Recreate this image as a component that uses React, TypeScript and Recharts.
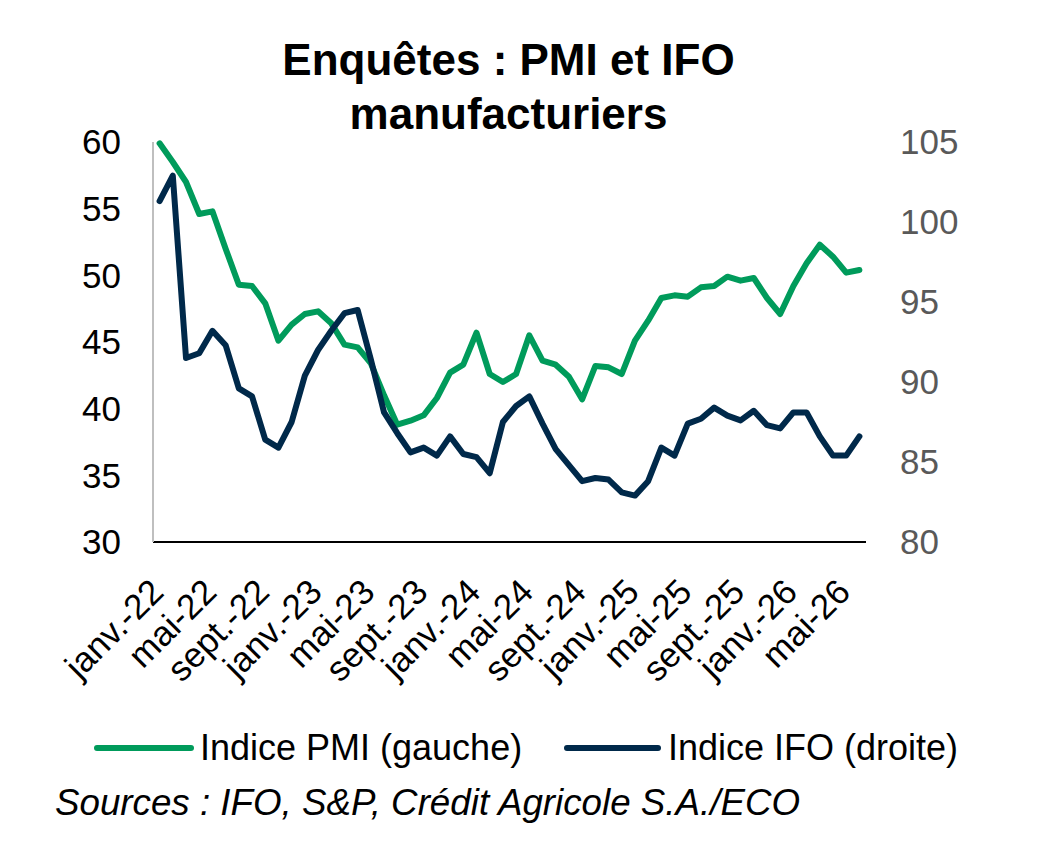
import React from "react";
import { LineChart, Line, XAxis, YAxis } from "recharts";

const MONTHS: string[] = [
  "janv.-22","févr.-22","mars-22","avr.-22","mai-22","juin-22","juil.-22","août-22","sept.-22","oct.-22","nov.-22","déc.-22",
  "janv.-23","févr.-23","mars-23","avr.-23","mai-23","juin-23","juil.-23","août-23","sept.-23","oct.-23","nov.-23","déc.-23",
  "janv.-24","févr.-24","mars-24","avr.-24","mai-24","juin-24","juil.-24","août-24","sept.-24","oct.-24","nov.-24","déc.-24",
  "janv.-25","févr.-25","mars-25","avr.-25","mai-25","juin-25","juil.-25","août-25","sept.-25","oct.-25","nov.-25","déc.-25",
  "janv.-26","févr.-26","mars-26","avr.-26","mai-26","juin-26",
];

const PMI: number[] = [
  59.9, 58.5, 57.0, 54.6, 54.8, 52.0, 49.3, 49.2, 47.9, 45.1, 46.3, 47.1,
  47.3, 46.4, 44.8, 44.6, 43.4, 41.0, 38.8, 39.1, 39.5, 40.8, 42.7, 43.3,
  45.7, 42.6, 42.0, 42.6, 45.5, 43.6, 43.3, 42.4, 40.7, 43.2, 43.1, 42.6,
  45.1, 46.6, 48.3, 48.5, 48.4, 49.1, 49.2, 49.9, 49.6, 49.8, 48.3, 47.1,
  49.2, 50.9, 52.3, 51.4, 50.2, 50.4,
];

const IFO: number[] = [
  101.3, 102.9, 91.5, 91.8, 93.2, 92.3, 89.6, 89.1, 86.4, 85.9, 87.5, 90.4,
  92.0, 93.2, 94.3, 94.5, 91.4, 88.1, 86.8, 85.6, 85.9, 85.4, 86.6, 85.5,
  85.3, 84.3, 87.5, 88.5, 89.1, 87.4, 85.8, 84.8, 83.8, 84.0, 83.9, 83.1,
  82.9, 83.8, 85.9, 85.4, 87.4, 87.7, 88.4, 87.9, 87.6, 88.2, 87.3, 87.1,
  88.1, 88.1, 86.6, 85.4, 85.4, 86.6,
];

const LEFT_TICKS: number[] = [30, 35, 40, 45, 50, 55, 60];
const RIGHT_TICKS: number[] = [80, 85, 90, 95, 100, 105];

const TITLE_LINES: string[] = ["Enquêtes : PMI et IFO", "manufacturiers"];
const PMI_NAME = "Indice PMI (gauche)";
const IFO_NAME = "Indice IFO (droite)";
const SOURCE = "Sources : IFO, S&P, Crédit Agricole S.A./ECO";

const GREEN = "#009B5B";
const NAVY = "#00294A";
const FONT = "'Liberation Sans', Arial, sans-serif";

const data = MONTHS.map((m, i) => ({ month: m, pmi: PMI[i], ifo: IFO[i] }));

const XTick = (props: any) => {
  const { x, y, payload } = props;
  const ax = x + 6;
  const ay = y + 44;
  return (
    <text
      x={ax}
      y={ay}
      transform={`rotate(-45, ${ax}, ${ay})`}
      textAnchor="end"
      fontSize={35}
      fontFamily={FONT}
      fill="#000"
    >
      {payload.value}
    </text>
  );
};

export default function App() {
  return (
    <div style={{ position: "absolute", left: 0, top: 0, width: 1039, height: 845, background: "#fff", fontFamily: FONT }}>
      <div
        style={{
          position: "absolute",
          left: 0,
          top: 33,
          width: 1017,
          textAlign: "center",
          fontSize: 44,
          lineHeight: "54px",
          fontWeight: "bold",
          color: "#000",
        }}
      >
        {TITLE_LINES.map((t) => (
          <div key={t}>{t}</div>
        ))}
      </div>
      <div style={{ position: "absolute", left: 0, top: 0 }}>
        <LineChart
          width={1039}
          height={845}
          data={data}
          margin={{ top: 142, right: 113, bottom: 203, left: 93 }}
        >
          <XAxis
            dataKey="month"
            interval={3}
            tick={<XTick />}
            tickLine={false}
            axisLine={{ stroke: "#000", strokeWidth: 2 }}
            padding={{ left: 6.6, right: 6.6 }}
            height={100}
          />
          <YAxis
            yAxisId="left"
            orientation="left"
            domain={[30, 60]}
            ticks={LEFT_TICKS}
            width={60}
            tickLine={false}
            tickSize={0}
            tickMargin={32}
            axisLine={{ stroke: "#BFBFBF", strokeWidth: 2 }}
            tick={{ fontSize: 35, fill: "#000", fontFamily: FONT }}
          />
          <YAxis
            yAxisId="right"
            orientation="right"
            domain={[80, 105]}
            ticks={RIGHT_TICKS}
            width={60}
            tickLine={false}
            tickSize={0}
            tickMargin={34}
            axisLine={false}
            tick={{ fontSize: 35, fill: "#595959", fontFamily: FONT }}
          />
          <Line
            yAxisId="left"
            dataKey="pmi"
            name={PMI_NAME}
            stroke={GREEN}
            strokeWidth={6}
            strokeLinejoin="round"
            strokeLinecap="round"
            dot={false}
            isAnimationActive={false}
          />
          <Line
            yAxisId="right"
            dataKey="ifo"
            name={IFO_NAME}
            stroke={NAVY}
            strokeWidth={6}
            strokeLinejoin="round"
            strokeLinecap="round"
            dot={false}
            isAnimationActive={false}
          />
        </LineChart>
      </div>
      <svg style={{ position: "absolute", left: 0, top: 700 }} width={1039} height={145}>
        <line x1={97} y1={48} x2={191} y2={48} stroke={GREEN} strokeWidth={6} strokeLinecap="round" />
        <text x={200} y={60} fontSize={36} fontFamily={FONT} fill="#000">{PMI_NAME}</text>
        <line x1={567} y1={48} x2={658} y2={48} stroke={NAVY} strokeWidth={6} strokeLinecap="round" />
        <text x={668} y={60} fontSize={36} fontFamily={FONT} fill="#000">{IFO_NAME}</text>
        <text
          x={55}
          y={115}
          fontSize={36}
          fontStyle="italic"
          fontFamily={FONT}
          fill="#000"
          textLength={745}
          lengthAdjust="spacingAndGlyphs"
        >
          {SOURCE}
        </text>
      </svg>
    </div>
  );
}
